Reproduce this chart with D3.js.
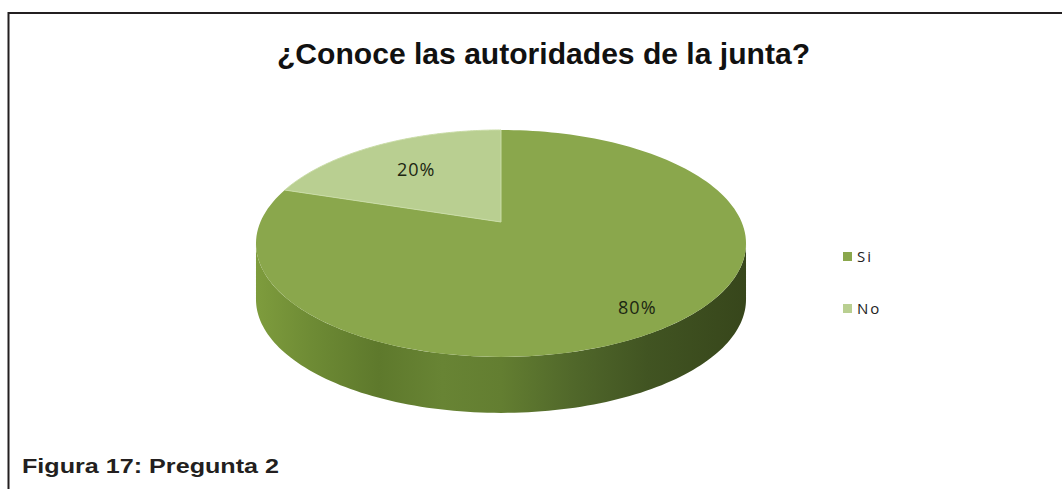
<!DOCTYPE html>
<html>
<head>
<meta charset="utf-8">
<script src="https://cdn.jsdelivr.net/npm/d3@7"></script>
<style>
  html, body { margin: 0; padding: 0; background: #fff; }
  svg { display: block; }
</style>
</head>
<body>
<svg id="chart" width="1062" height="489"></svg>
<script>
// data
var categories = ["Si", "No"];
var values = [80, 20];
var labels = ["80%", "20%"];
var title = "¿Conoce las autoridades de la junta?";
var caption = "Figura 17: Pregunta 2";

var svg = d3.select("#chart");

//colours for each slice
var color = d3.scaleOrdinal().domain(categories).range(["#8aa74c", "#b9cf91"]);

//the tilted pie: circle seen in perspective
var cx = 501, cy = 222, A = 240.6, B = 109.4, p = 0.189, depth = 56;
function proj(theta, r, dy) {
  var u = Math.sin(theta) * r, v = -Math.cos(theta) * r;
  var D = 1 - p * v;
  return [cx + A * u / D, cy + B * v / D + (dy || 0)];
}

var pie = d3.pie().sort(null).value(function(d) { return d; });
var arcs = pie(values);
var total = d3.sum(values);

//gradient for the side wall
var defs = svg.append("defs");
var grad = defs.append("linearGradient")
  .attr("id", "side")
  .attr("gradientUnits", "userSpaceOnUse")
  .attr("x1", cx - 245).attr("x2", cx + 245).attr("y1", 0).attr("y2", 0);
[[0, "#7e9c3d"], [0.12, "#6d8a34"], [0.25, "#5e792c"], [0.38, "#688434"],
 [0.5, "#637e31"], [0.65, "#50672a"], [0.8, "#415422"], [1, "#37461b"]]
  .forEach(function(s) {
    grad.append("stop").attr("offset", s[0]).attr("stop-color", s[1]);
  });

var line = d3.line();

//side wall, only the front part is visible
var frontStart = Math.acos(-p), frontEnd = 2 * Math.PI - Math.acos(-p);
arcs.forEach(function(a) {
  var s = Math.max(a.startAngle, frontStart), e = Math.min(a.endAngle, frontEnd);
  if (e <= s) return;
  var pts = [], n = 120, i;
  for (i = 0; i <= n; i++) pts.push(proj(s + (e - s) * i / n, 1, 0));
  for (i = n; i >= 0; i--) pts.push(proj(s + (e - s) * i / n, 1, depth));
  svg.append("path")
    .attr("d", line(pts) + "Z")
    .attr("fill", "url(#side)");
});

//top face slices
arcs.forEach(function(a, k) {
  var pts = [proj(0, 0, 0)], n = 160;
  for (var i = 0; i <= n; i++) pts.push(proj(a.startAngle + (a.endAngle - a.startAngle) * i / n, 1, 0));
  svg.append("path")
    .attr("d", line(pts) + "Z")
    .attr("fill", color(categories[k]))
    .attr("stroke", k == 1 ? "#c9dca6" : "none")
    .attr("stroke-width", 1);
});

//percentage labels
arcs.forEach(function(a, k) {
  var mid = (a.startAngle + a.endAngle) / 2;
  var r = 0.6 + 0.3 * values[k] / total;
  var pt = proj(mid, r, 0);
  svg.append("text")
    .attr("x", pt[0]).attr("y", pt[1])
    .attr("text-anchor", "middle")
    .attr("dominant-baseline", "central")
    .style("font-family", "'Open Sans', sans-serif")
    .style("font-size", "18px")
    .style("letter-spacing", "1px")
    .style("fill", "#1c2612")
    .text(labels[k]);
});

//legend
var legend = svg.append("g").attr("transform", "translate(843,252)");
categories.forEach(function(c, k) {
  var g = legend.append("g").attr("transform", "translate(0," + (k * 52) + ")");
  g.append("rect").attr("width", 9).attr("height", 9).attr("fill", color(c));
  g.append("text")
    .attr("x", 14).attr("y", 10)
    .style("font-family", "'Open Sans', sans-serif")
    .style("font-size", "15px")
    .style("letter-spacing", "2px")
    .style("fill", "#222")
    .text(c);
});

//title
svg.append("text")
  .attr("x", 277).attr("y", 64)
  .attr("textLength", 533)
  .attr("lengthAdjust", "spacingAndGlyphs")
  .style("font-family", "'Liberation Sans', Arial, sans-serif")
  .style("font-weight", "bold")
  .style("font-size", "29px")
  .style("fill", "#111")
  .text(title);

//frame lines (top and left)
svg.append("path")
  .attr("d", "M8.5,489 V13 H1062")
  .attr("fill", "none")
  .attr("stroke", "#231f20")
  .attr("stroke-width", 2);

//caption
svg.append("text")
  .attr("x", 22).attr("y", 473)
  .attr("textLength", 257)
  .attr("lengthAdjust", "spacingAndGlyphs")
  .style("font-family", "'Liberation Sans', Arial, sans-serif")
  .style("font-weight", "bold")
  .style("font-size", "21px")
  .style("fill", "#231f20")
  .text(caption);
</script>
</body>
</html>
